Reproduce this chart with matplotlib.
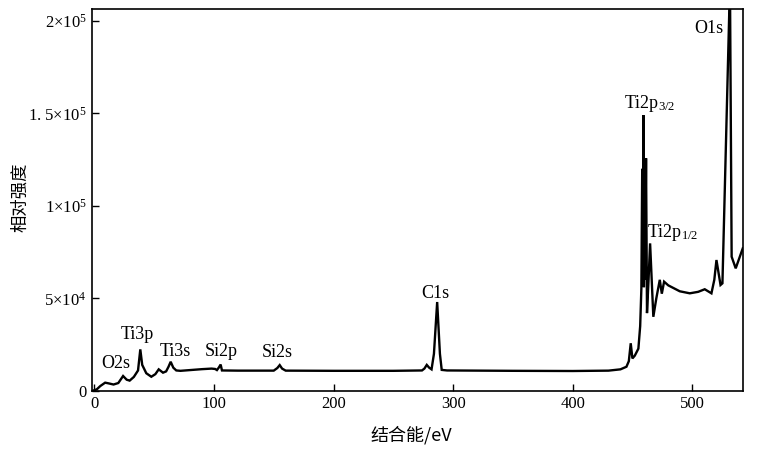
import matplotlib
matplotlib.use("Agg")
import matplotlib.pyplot as plt
from matplotlib.ticker import FixedLocator, FixedFormatter

# ---- data ----
energy = [-1.5, 2, 5, 9, 12, 16, 20, 24, 27, 29.5, 33, 36.5, 38.4, 40, 43.4, 47.6, 51, 53.8,
          57.4, 60, 62, 63.8, 66, 68.5, 72, 80, 90, 98, 101, 102.5, 104, 105.6, 106.7, 120,
          150, 153, 155, 157, 160, 200, 250, 274, 276, 278, 280, 282, 284, 286.7, 289, 290.5,
          295, 350, 400, 430, 440, 445, 447, 448.6, 450, 452, 455, 456.5, 457.5, 458.2, 458.6,
          459.2, 459.6, 460.2, 460.6, 461.4, 462.2, 463.5, 464.8, 467.5, 470, 472.9, 474.6,
          476.5, 480, 489.6, 498, 505, 510.5, 516.1, 518.5, 520.3, 523.7, 525.3, 531.6, 533,
          536.4, 542.3]
intensity = [0, 800, 2600, 4400, 4000, 3400, 4200, 8000, 6000, 5500, 7500, 11000, 22400, 14000,
             9500, 7600, 9000, 11600, 9800, 10500, 13000, 15700, 12500, 11000, 10800, 11200,
             11700, 12000, 11800, 11200, 12500, 14200, 11000, 10900, 10900, 12300, 13900, 12000,
             10900, 10800, 10800, 11000, 12000, 14000, 12500, 11600, 20000, 48000, 20000, 11300,
             11000, 10800, 10700, 10900, 11600, 13000, 16000, 25700, 17500, 19000, 22800, 35000,
             55400, 120000, 60000, 149000, 56000, 100000, 60000, 125700, 42000, 60000, 79700,
             40000, 50000, 60000, 52500, 59000, 57000, 53800, 52700, 53500, 54900, 52700, 60000,
             70700, 57200, 58100, 220000, 72500, 66200, 77000]

xticks = [0, 100, 200, 300, 400, 500]
yticks = [0, 50000, 100000, 150000, 200000]
ytick_labels = ["0", "5×10$^4$", "1×10$^5$", "1. 5×10$^5$", "2×10$^5$"]

peak_labels = ["O2s", "Ti3p", "Ti3s", "Si2p", "Si2s", "C1s", "O1s"]
peak_label_x = [17.5, 35.6, 67.7, 106.1, 152.9, 285.4, 513.9]
peak_label_y = [14900, 30200, 21100, 21100, 20600, 52700, 195900]

# ---- style ----
plt.rcParams['font.family'] = ['Liberation Serif', 'Noto Sans CJK SC']
plt.rcParams['mathtext.fontset'] = 'custom'
plt.rcParams['mathtext.rm'] = 'Liberation Serif'
plt.rcParams['mathtext.it'] = 'Liberation Serif:italic'

fig = plt.figure(figsize=(7.58, 4.49), dpi=100)
ax = fig.add_axes([92 / 758, 1 - 390.8 / 449, (743 - 92) / 758, (390.8 - 9) / 449])

ax.plot(energy, intensity, color='black', lw=1.7, solid_joinstyle='miter')

ax.set_xlim(-2, 542.5)
ax.set_ylim(0, 206400)

ax.xaxis.set_major_locator(FixedLocator(xticks))
ax.yaxis.set_major_locator(FixedLocator(yticks))
ax.yaxis.set_major_formatter(FixedFormatter(ytick_labels))
ax.tick_params(direction='in', length=5, width=1.0, labelsize=12, pad=4, colors='black')

for s in ax.spines.values():
    s.set_linewidth(1.2)

for t, x, y in zip(peak_labels, peak_label_x, peak_label_y):
    ax.text(x, y, t, ha='center', va='center', fontsize=13)

ax.text(442.8, 155400, "Ti2p$_{3/2}$", ha='left', va='center', fontsize=13)
ax.text(462.6, 85700, "Ti2p$_{1/2}$", ha='left', va='center', fontsize=13)

fig.text(20 / 758, 1 - 197 / 449, "相对强度", rotation=90, ha='center', va='center',
         fontsize=12.5, family=['Noto Sans CJK SC'])
fig.text(411.7 / 758, 1 - 435 / 449, "结合能/eV", ha='center', va='center',
         fontsize=13, family=['Noto Sans CJK SC', 'Liberation Serif'])

fig.savefig("out.png", dpi=100)
